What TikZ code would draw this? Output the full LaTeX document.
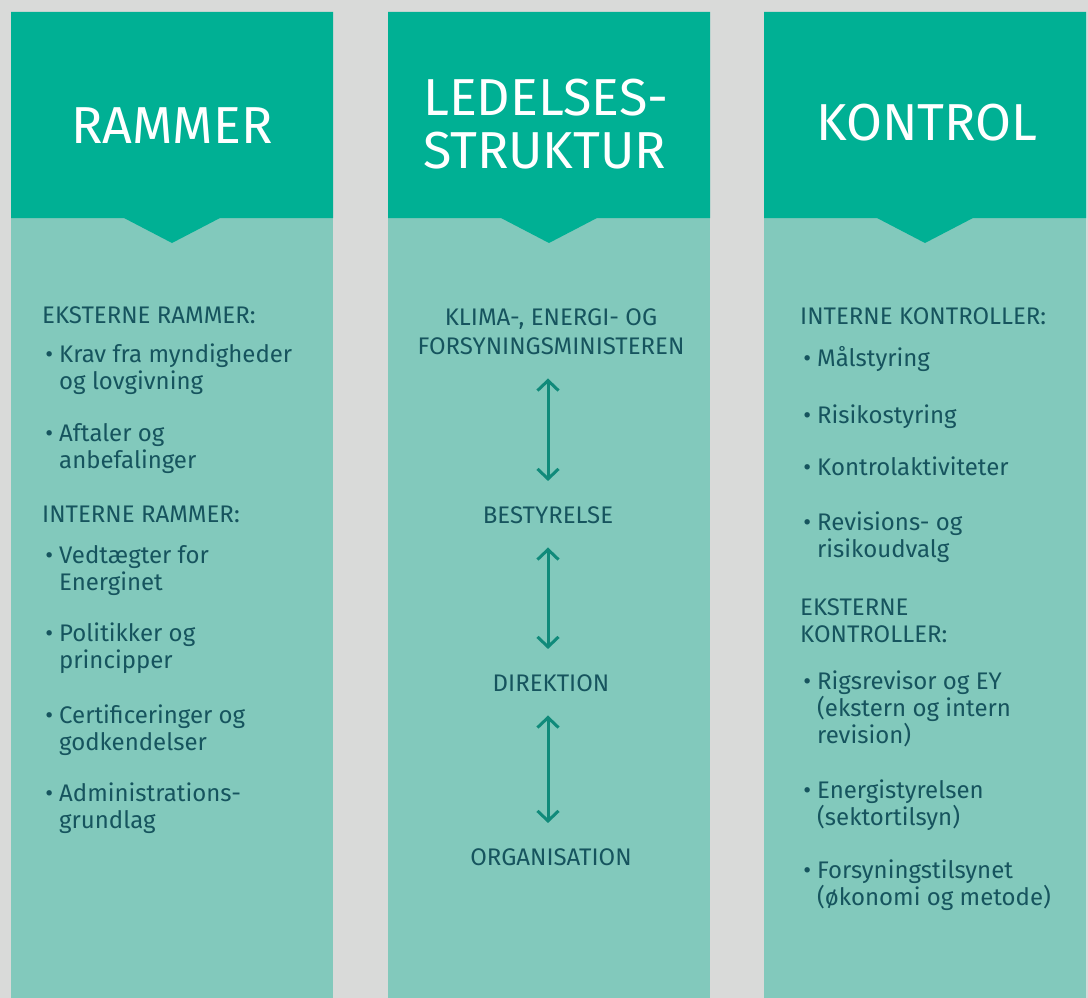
\documentclass[tikz,border=0pt]{standalone}
\usepackage{fontspec}
\setmainfont{Fira Sans}
\usepackage{tikz}
\usetikzlibrary{arrows.meta, positioning, calc}
\definecolor{pagegray}{RGB}{217, 218, 217}
\definecolor{headteal}{RGB}{0, 176, 148}
\definecolor{bodyteal}{RGB}{130, 201, 188}
\definecolor{inkteal}{RGB}{22, 84, 94}
\definecolor{arrowteal}{RGB}{16, 138, 122}
\newcommand{\bul}{\llap{\textbullet\hspace{6pt}}}
\tikzset{
  txt/.style={font=\fontsize{24}{27}\selectfont, text=inkteal, inner sep=0pt, anchor=base west, align=left},
  midtxt/.style={font=\fontsize{24}{29}\selectfont, text=inkteal, inner sep=0pt, anchor=base, align=center},
  headtxt/.style={font=\fontsize{52}{53}\selectfont, text=white, inner sep=0pt},
  link/.style={{Straight Barb[length=10pt, width=21pt]}-{Straight Barb[length=10pt, width=21pt]}, line width=3pt, draw=arrowteal, shorten <=24pt, shorten >=25pt}
}

\begin{document}
\begin{tikzpicture}[x=1pt, y=-1pt]
  \fill[pagegray] (0,0) rectangle (1088,998);
  \useasboundingbox (0,0) rectangle (1088,998);

  % Columns
  \fill[bodyteal] (11,218) rectangle (333,998);
  \fill[bodyteal] (388,218) rectangle (710,998);
  \fill[bodyteal] (764,218) rectangle (1086,998);
  \fill[headteal] (11,12) -- (333,12) -- (333,218) -- (220,218) -- (172,243) -- (124,218) -- (11,218) -- cycle;
  \fill[headteal] (388,12) -- (710,12) -- (710,218) -- (597,218) -- (549,243) -- (501,218) -- (388,218) -- cycle;
  \fill[headteal] (764,12) -- (1086,12) -- (1086,218) -- (973,218) -- (925,243) -- (877,218) -- (764,218) -- cycle;

  % Headers (multi-line nodes sit on their last baseline)
  \node[headtxt, anchor=base] (rammer) at (172,143) {RAMMER};
  \node[headtxt, anchor=base west, align=left] (ledelse) at (423,168) {LEDELSES-\\STRUKTUR};
  \node[headtxt, anchor=base] (kontrol) at (927,140) {KONTROL};

  % Rammer
  \node[txt] (eksram) at (42,323) {EKSTERNE RAMMER:};
  \node[txt] (krav) at (59,389) {\bul Krav fra myndigheder\\og lovgivning};
  \node[txt] (aftaler) at (59,468) {\bul Aftaler og\\anbefalinger};
  \node[txt] (intram) at (42,522) {INTERNE RAMMER:};
  \node[txt] (vedtaegt) at (59,590) {\bul Vedtægter for\\Energinet};
  \node[txt] (politik) at (59,668) {\bul Politikker og\\principper};
  \node[txt] (certif) at (59,750) {\bul Certificeringer og\\godkendelser};
  \node[txt] (admin) at (59,828) {\bul Administrations-\\grundlag};

  % Ledelsesstruktur
  \node[midtxt] (minister) at (551,354) {KLIMA-, ENERGI- OG\\FORSYNINGSMINISTEREN};
  \node[midtxt] (bestyr) at (548,523) {BESTYRELSE};
  \node[midtxt] (direkt) at (551,691) {DIREKTION};
  \node[midtxt] (organis) at (551,865) {ORGANISATION};
  \draw[link] (minister.south -| bestyr.base) -- (bestyr.north);
  \draw[link] (bestyr.south) -- (bestyr.south |- direkt.north);
  \draw[link] (bestyr.south |- direkt.south) -- (bestyr.south |- organis.north);

  % Kontrol
  \node[txt] (intkon) at (800,324) {INTERNE KONTROLLER:};
  \node[txt] (maal) at (817,366) {\bul Målstyring};
  \node[txt] (risiko) at (817,423) {\bul Risikostyring};
  \node[txt] (aktiv) at (817,475) {\bul Kontrolaktiviteter};
  \node[txt] (revudv) at (817,557) {\bul Revisions- og\\risikoudvalg};
  \node[txt] (ekskon) at (800,642) {EKSTERNE\\KONTROLLER:};
  \node[txt] (rigsrev) at (817,743) {\bul Rigsrevisor og EY\\(ekstern og intern\\revision)};
  \node[txt] (energi) at (817,825) {\bul Energistyrelsen\\(sektortilsyn)};
  \node[txt] (forsyn) at (817,905) {\bul Forsyningstilsynet\\(økonomi og metode)};
\end{tikzpicture}
\end{document}
